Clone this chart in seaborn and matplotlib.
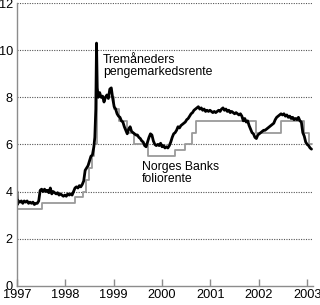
import matplotlib
matplotlib.use("Agg")
import matplotlib.pyplot as plt
import seaborn as sns
import pandas as pd

sns.set_theme(style="white")
plt.rcParams['font.family'] = ['Liberation Sans', 'DejaVu Sans']

# Three-month money market rate (decimal year, percent)
mm_t = [1997.00, 1997.01, 1997.03, 1997.06, 1997.09, 1997.12, 1997.15, 1997.18, 1997.21, 1997.24,
        1997.27, 1997.30, 1997.33, 1997.36, 1997.39, 1997.42, 1997.45, 1997.48, 1997.51, 1997.54,
        1997.57, 1997.60, 1997.63, 1997.66, 1997.69, 1997.72, 1997.75, 1997.78, 1997.81, 1997.84,
        1997.87, 1997.90, 1997.93, 1997.96, 1997.99, 1998.02, 1998.05, 1998.08, 1998.11, 1998.14,
        1998.17, 1998.20, 1998.23, 1998.26, 1998.29, 1998.32, 1998.35, 1998.38, 1998.41, 1998.44,
        1998.47, 1998.50, 1998.53, 1998.56, 1998.59, 1998.61, 1998.63, 1998.645, 1998.66, 1998.68,
        1998.71, 1998.74, 1998.77, 1998.80, 1998.83, 1998.86, 1998.89, 1998.92, 1998.95, 1998.98,
        1999.01, 1999.04, 1999.07, 1999.10, 1999.13, 1999.16, 1999.19, 1999.22, 1999.25, 1999.28,
        1999.31, 1999.34, 1999.37, 1999.40, 1999.43, 1999.46, 1999.49, 1999.52, 1999.55, 1999.58,
        1999.61, 1999.64, 1999.67, 1999.70, 1999.73, 1999.76, 1999.79, 1999.82, 1999.85, 1999.88,
        1999.91, 1999.94, 1999.97, 2000.00, 2000.03, 2000.06, 2000.09, 2000.12, 2000.15, 2000.18,
        2000.21, 2000.24, 2000.27, 2000.30, 2000.33, 2000.36, 2000.39, 2000.42, 2000.45, 2000.48,
        2000.51, 2000.54, 2000.57, 2000.60, 2000.63, 2000.66, 2000.69, 2000.72, 2000.75, 2000.78,
        2000.81, 2000.84, 2000.87, 2000.90, 2000.93, 2000.96, 2000.99, 2001.02, 2001.05, 2001.08,
        2001.11, 2001.14, 2001.17, 2001.20, 2001.23, 2001.26, 2001.29, 2001.32, 2001.35, 2001.38,
        2001.41, 2001.44, 2001.47, 2001.50, 2001.53, 2001.56, 2001.59, 2001.62, 2001.65, 2001.68,
        2001.71, 2001.74, 2001.77, 2001.80, 2001.83, 2001.86, 2001.89, 2001.92, 2001.95, 2001.98,
        2002.01, 2002.04, 2002.07, 2002.10, 2002.13, 2002.16, 2002.19, 2002.22, 2002.25, 2002.28,
        2002.31, 2002.34, 2002.37, 2002.40, 2002.43, 2002.46, 2002.49, 2002.52, 2002.55, 2002.58,
        2002.61, 2002.64, 2002.67, 2002.70, 2002.73, 2002.76, 2002.79, 2002.82, 2002.85, 2002.88,
        2002.91, 2002.94, 2002.97, 2003.00, 2003.03, 2003.06, 2003.09]
mm_v = [4.00, 3.45, 3.60, 3.55, 3.60, 3.50, 3.60, 3.55, 3.60, 3.50,
        3.55, 3.50, 3.55, 3.45, 3.50, 3.50, 3.60, 4.05, 4.10, 4.00,
        4.10, 4.00, 4.05, 3.95, 4.15, 3.90, 4.00, 3.95, 3.90, 3.95,
        3.85, 3.90, 3.85, 3.80, 3.85, 3.80, 3.90, 3.85, 3.90, 3.85,
        4.00, 4.15, 4.20, 4.15, 4.25, 4.20, 4.30, 4.45, 4.90, 5.00,
        5.10, 5.30, 5.50, 5.55, 5.90, 6.30, 7.50, 10.30, 8.40, 8.00,
        8.20, 8.00, 8.05, 7.80, 8.00, 8.10, 7.95, 8.35, 8.40, 7.95,
        7.60, 7.50, 7.30, 7.20, 7.15, 7.00, 6.95, 6.75, 6.60, 6.45,
        6.65, 6.75, 6.55, 6.50, 6.45, 6.40, 6.40, 6.30, 6.25, 6.15,
        6.10, 5.95, 5.90, 6.10, 6.30, 6.45, 6.40, 6.15, 6.00, 5.95,
        6.00, 5.95, 6.05, 5.90, 5.95, 5.85, 5.90, 5.85, 5.95, 6.10,
        6.30, 6.45, 6.50, 6.60, 6.75, 6.70, 6.80, 6.85, 6.90, 6.95,
        7.05, 7.10, 7.20, 7.30, 7.35, 7.45, 7.50, 7.55, 7.60, 7.50,
        7.55, 7.45, 7.50, 7.40, 7.45, 7.40, 7.45, 7.40, 7.35, 7.40,
        7.35, 7.40, 7.45, 7.40, 7.50, 7.55, 7.45, 7.50, 7.40, 7.45,
        7.35, 7.40, 7.35, 7.30, 7.35, 7.30, 7.25, 7.30, 7.20, 7.00,
        7.10, 6.95, 7.00, 6.80, 6.65, 6.50, 6.45, 6.30, 6.25, 6.40,
        6.45, 6.50, 6.55, 6.60, 6.60, 6.65, 6.70, 6.75, 6.80, 6.85,
        6.90, 7.05, 7.15, 7.20, 7.25, 7.30, 7.25, 7.30, 7.20, 7.25,
        7.15, 7.20, 7.10, 7.15, 7.05, 7.10, 7.05, 7.15, 7.00, 6.95,
        6.50, 6.35, 6.10, 6.00, 5.95, 5.85, 5.80]

# Norges Bank sight deposit (folio) rate, step changes
folio_t = [1997.00, 1997.51, 1998.20, 1998.37, 1998.42, 1998.48, 1998.55, 1998.60, 1998.645,
           1999.01, 1999.12, 1999.27, 1999.43, 1999.71, 2000.26, 2000.47, 2000.61, 2000.70,
           2001.94, 2002.46, 2002.93, 2003.03, 2003.10]
folio_v = [3.25, 3.50, 3.75, 4.00, 4.50, 5.00, 5.50, 6.00, 8.00,
           7.50, 7.00, 6.50, 6.00, 5.50, 5.75, 6.00, 6.50, 7.00,
           6.50, 7.00, 6.50, 6.00, 6.00]

year_ticks = [1997, 1998, 1999, 2000, 2001, 2002, 2003]
y_ticks = [0, 2, 4, 6, 8, 10, 12]
label_mm = "Tremåneders\npengemarkedsrente"
label_folio = "Norges Banks\nfoliorente"

fig = plt.figure(figsize=(3.2, 3.05), dpi=100)
ax = fig.add_axes([0.053, 0.063, 0.925, 0.927])

df_f = pd.DataFrame({"t": folio_t, "v": folio_v})
df_m = pd.DataFrame({"t": mm_t, "v": mm_v})
sns.lineplot(data=df_f, x="t", y="v", ax=ax, color="#9a9a9a", linewidth=1.3,
             drawstyle="steps-post", estimator=None, sort=False)
sns.lineplot(data=df_m, x="t", y="v", ax=ax, color="black", linewidth=2.0,
             estimator=None, sort=False)

ax.set_xlim(1997.0, 2003.12)
ax.set_ylim(0, 12)
ax.set_xticks(year_ticks)
ax.set_xticklabels([str(y) for y in year_ticks])
ax.set_yticks(y_ticks)
ax.set_yticklabels([str(v) for v in y_ticks])
ax.set_xlabel("")
ax.set_ylabel("")

for v in y_ticks[1:]:
    ax.axhline(v, color="#555555", linewidth=0.8, linestyle=(0, (1, 1.2)), zorder=0)

for s in ["top", "right"]:
    ax.spines[s].set_visible(False)
for s in ["left", "bottom"]:
    ax.spines[s].set_color("#8c8c8c")
    ax.spines[s].set_linewidth(1.0)

ax.tick_params(axis="x", direction="in", length=5, width=1, color="#8c8c8c",
               labelsize=9.2, pad=2, bottom=True)
ax.tick_params(axis="y", length=0, labelsize=9.2, pad=3, left=False)
for lab in ax.get_xticklabels() + ax.get_yticklabels():
    lab.set_color("black")

ax.text(1998.78, 9.85, label_mm, fontsize=8.8, va="top", ha="left",
        linespacing=1.0, color="black")
ax.text(1999.59, 5.30, label_folio, fontsize=8.8, va="top", ha="left",
        linespacing=1.0, color="black")

fig.savefig("out.png", dpi=100)
